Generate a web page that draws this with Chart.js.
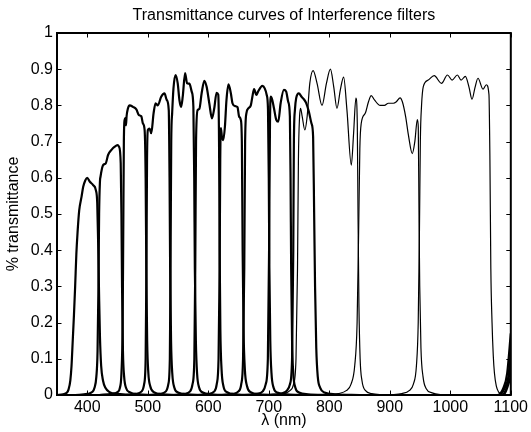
<!DOCTYPE html>
<html>
<head>
<meta charset="utf-8">
<script src="https://cdn.jsdelivr.net/npm/chart.js@4.4.1/dist/chart.umd.min.js"></script>
<style>
html,body{margin:0;padding:0;background:#fff;}
canvas{display:block;}
</style>
</head>
<body>
<canvas id="c" width="531" height="432"></canvas>
<script>
// ---- text ----
const chartTitle = 'Transmittance curves of Interference filters';
const xAxisLabel = 'λ (nm)';
const yAxisLabel = '% transmittance';

// ---- ticks ----
const xTickValues = [400, 500, 600, 700, 800, 900, 1000, 1100];
const yTickValues = [0, 0.1, 0.2, 0.3, 0.4, 0.5, 0.6, 0.7, 0.8, 0.9, 1];

// ---- filter curves: [wavelength nm, transmittance] ----
const filter400 = [[350,0],[360,0.002],[366,0.006],[369,0.015],[372,0.04],[374,0.08],[376,0.15],[378,0.22],[380,0.3],[382,0.39],[384,0.45],[386.7,0.51],[390.6,0.548],[393.3,0.575],[396.5,0.592],[399.8,0.6],[404.3,0.589],[409.7,0.58],[414.2,0.566],[416.5,0.53],[418,0.42],[419.5,0.28],[421,0.16],[423,0.08],[426,0.04],[430,0.02],[437,0.008],[450,0.003],[480,0],[1078,0],[1088,0.02],[1094,0.06],[1100,0.17]];
const filter440 = [[380,0],[400,0.003],[408,0.008],[412,0.02],[415,0.05],[417,0.12],[418.5,0.3],[419.6,0.5],[421,0.59],[421.9,0.603],[426.2,0.635],[430.6,0.64],[434.4,0.663],[440,0.677],[445.4,0.686],[449.9,0.69],[452.5,0.686],[455.3,0.64],[456.5,0.5],[457.5,0.3],[459,0.12],[461,0.05],[464,0.02],[470,0.008],[485,0.002],[520,0],[1082,0],[1090,0.02],[1096,0.05],[1100,0.12]];
const filter480 = [[420,0],[440,0.003],[450,0.008],[454,0.02],[456.5,0.06],[458.5,0.2],[459.5,0.45],[460.5,0.7],[461.8,0.76],[463,0.765],[464,0.745],[465,0.77],[467,0.79],[470.1,0.8],[475.5,0.796],[481.1,0.789],[485.4,0.773],[489.3,0.77],[492,0.75],[494.8,0.732],[496.5,0.6],[497.6,0.35],[499,0.15],[501,0.06],[504,0.025],[510,0.008],[525,0.002],[560,0],[1085,0],[1093,0.02],[1100,0.08]];
const filter520 = [[460,0],[480,0.003],[490,0.01],[494,0.03],[496.5,0.1],[497.8,0.35],[498.8,0.65],[500.2,0.732],[503,0.736],[505.8,0.723],[509.6,0.778],[512.9,0.806],[516.6,0.8],[522.2,0.824],[527.6,0.833],[531.4,0.815],[534.7,0.787],[536,0.6],[537,0.35],[538.5,0.15],[540.5,0.06],[544,0.02],[550,0.007],[565,0.002],[600,0],[1088,0],[1100,0.05]];
const filter560 = [[500,0],[520,0.003],[530,0.01],[534,0.03],[536.5,0.1],[537.8,0.4],[538.8,0.7],[540.3,0.778],[542.5,0.847],[545.8,0.884],[549.5,0.861],[552.3,0.815],[555.1,0.796],[557.8,0.824],[561.7,0.889],[565,0.861],[568.8,0.86],[572.6,0.838],[575.4,0.796],[576.8,0.6],[577.8,0.35],[579.5,0.15],[581.5,0.06],[585,0.02],[591,0.007],[605,0.002],[640,0]];
const filter600 = [[540,0],[560,0.003],[570,0.01],[574,0.03],[577,0.1],[578.5,0.35],[579.8,0.7],[582.4,0.787],[585.2,0.79],[589,0.833],[593.5,0.868],[597.2,0.852],[601.7,0.806],[606.1,0.764],[609.9,0.792],[613.7,0.835],[616.5,0.83],[617.8,0.7],[618.8,0.4],[620,0.18],[622,0.07],[625,0.025],[631,0.008],[645,0.002],[680,0]];
const filter640 = [[580,0],[600,0.003],[610,0.01],[614,0.03],[617,0.1],[618.8,0.35],[619.8,0.65],[620.9,0.737],[622.6,0.713],[624.7,0.704],[627.5,0.741],[630.1,0.815],[633.4,0.858],[637.4,0.833],[640,0.806],[644.5,0.798],[648.3,0.795],[651,0.769],[653.8,0.76],[655.5,0.7],[656.8,0.4],[658.3,0.18],[660.5,0.07],[664,0.025],[670,0.008],[685,0.002],[720,0]];
const filter680 = [[620,0],[640,0.003],[650,0.01],[654.5,0.03],[657.5,0.1],[659.5,0.35],[660.9,0.7],[663,0.778],[666.3,0.792],[670.3,0.8],[672.9,0.824],[675.7,0.845],[679.5,0.829],[682.3,0.838],[689.4,0.854],[693.3,0.847],[696.6,0.829],[698.7,0.79],[700,0.6],[701,0.35],[702.5,0.15],[704.5,0.06],[708,0.02],[714,0.007],[730,0.002],[760,0]];
const filter720 = [[660,0],[680,0.003],[690,0.01],[695,0.03],[698.5,0.1],[700.5,0.4],[702,0.75],[703.2,0.824],[705.8,0.815],[708.6,0.792],[712.4,0.76],[715.7,0.755],[719.6,0.806],[725,0.843],[728.8,0.838],[732.1,0.81],[734.9,0.769],[736,0.6],[737,0.35],[738.5,0.15],[740.5,0.06],[744,0.02],[750,0.007],[765,0.002],[800,0]];
const filter760 = [[700,0],[720,0.004],[730,0.012],[735,0.03],[738.5,0.1],[740.5,0.4],[741.5,0.7],[743.2,0.787],[745.3,0.82],[749.7,0.833],[754.2,0.824],[758,0.817],[761.7,0.807],[766.2,0.783],[770.6,0.75],[773.3,0.713],[775,0.5],[776.5,0.3],[778.5,0.13],[781,0.05],[785,0.02],[792,0.007],[810,0.002],[850,0]];
const filter800 = [[700,0],[725,0.004],[735,0.012],[741,0.03],[745,0.1],[747.5,0.35],[749,0.65],[750.9,0.769],[752.5,0.792],[755.2,0.77],[759.6,0.732],[763.4,0.769],[767.8,0.861],[773.3,0.896],[779.8,0.861],[788,0.8],[795.3,0.861],[801.9,0.9],[807.3,0.852],[812.7,0.792],[818.3,0.843],[823.7,0.878],[829.2,0.787],[836.4,0.635],[840.2,0.723],[844,0.82],[846.3,0.75],[847.5,0.5],[849,0.25],[851,0.1],[854,0.04],[860,0.012],[870,0.004],[890,0]];
const filter900 = [[790,0],[815,0.004],[828,0.012],[836,0.03],[842,0.08],[846,0.2],[848.5,0.45],[850.5,0.68],[852.8,0.75],[859.4,0.778],[864.8,0.81],[869.3,0.827],[874.7,0.815],[884.1,0.8],[891.1,0.8],[897.7,0.806],[905.9,0.806],[910.9,0.81],[917,0.821],[920.8,0.81],[926.2,0.769],[930.6,0.72],[937.2,0.667],[941.4,0.7],[945.5,0.761],[947.1,0.74],[948.3,0.5],[949.5,0.3],[951.5,0.13],[955,0.05],[960,0.018],[970,0.006],[990,0]];
const filter1000 = [[900,0],[920,0.004],[932,0.012],[939,0.03],[944,0.08],[947,0.2],[949,0.45],[950.5,0.7],[952.5,0.8],[955.4,0.852],[963.6,0.87],[973.4,0.882],[985.4,0.861],[995.3,0.884],[1003,0.87],[1011.7,0.884],[1017.8,0.87],[1024.9,0.88],[1031,0.85],[1035.9,0.817],[1040.9,0.85],[1045.8,0.875],[1054,0.845],[1059.5,0.857],[1063.9,0.83],[1065.5,0.65],[1067,0.35],[1069,0.2],[1071,0.11],[1073,0.06],[1076,0.025],[1080,0.008],[1085,0.002],[1100,0]];

const thickFilters = [filter400, filter440, filter480, filter520, filter560, filter600, filter640, filter680, filter720, filter760];
const thinFilters = [filter800, filter900, filter1000];

// ---- build datasets ----
const toPoints = arr => arr.map(p => ({x: p[0], y: p[1]}));
const datasets = [];
thinFilters.forEach(f => datasets.push({data: toPoints(f), borderColor: '#000', borderWidth: 1.2, pointRadius: 0, cubicInterpolationMode: 'monotone', fill: false}));
thickFilters.forEach(f => datasets.push({data: toPoints(f), borderColor: '#000', borderWidth: 2.2, pointRadius: 0, cubicInterpolationMode: 'monotone', fill: false}));

const FONT = 'Liberation Sans, Arial, Helvetica, sans-serif';
Chart.defaults.color = '#000';
Chart.defaults.font.family = FONT;

const boxPlugin = {
  id: 'matlabBox',
  afterDatasetsDraw(chart) {
    const {ctx, chartArea: a, scales} = chart;
    const x = scales.x, y = scales.y;
    ctx.save();
    ctx.strokeStyle = '#000';
    ctx.lineWidth = 1;
    const tl = 4.5;
    ctx.beginPath();
    xTickValues.forEach(v => {
      const px = Math.round(x.getPixelForValue(v)) + 0.5;
      ctx.moveTo(px, a.bottom); ctx.lineTo(px, a.bottom - tl);
      ctx.moveTo(px, a.top); ctx.lineTo(px, a.top + tl);
    });
    yTickValues.forEach(v => {
      const py = Math.round(y.getPixelForValue(v)) + 0.5;
      ctx.moveTo(a.left, py); ctx.lineTo(a.left + tl, py);
      ctx.moveTo(a.right, py); ctx.lineTo(a.right - tl, py);
    });
    ctx.stroke();
    ctx.lineWidth = 2;
    ctx.strokeRect(a.left, a.top, a.right - a.left, a.bottom - a.top);
    ctx.restore();
  }
};

new Chart(document.getElementById('c'), {
  type: 'scatter',
  data: {datasets},
  options: {
    responsive: false,
    animation: false,
    showLine: true,
    layout: {padding: {left: 0, right: 18, top: 0, bottom: 0}},
    plugins: {
      legend: {display: false},
      tooltip: {enabled: false},
      title: {
        display: true,
        text: chartTitle,
        fullSize: false,
        color: '#000',
        font: {family: FONT, size: 16, weight: 'normal'},
        padding: {top: 6, bottom: 7.8}
      }
    },
    scales: {
      x: {
        type: 'linear',
        min: 350, max: 1100,
        grid: {display: false, drawTicks: false},
        border: {display: false},
        afterBuildTicks: s => { s.ticks = xTickValues.map(v => ({value: v})); },
        afterFit: s => { s.height = 37; },
        ticks: {padding: 3, maxRotation: 0, autoSkip: false, color: '#000', font: {family: FONT, size: 16}, callback: v => String(v)},
        title: {display: true, text: xAxisLabel, color: '#000', font: {family: FONT, size: 16}, padding: {top: 0, bottom: 2}}
      },
      y: {
        type: 'linear',
        min: 0, max: 1,
        grid: {display: false, drawTicks: false},
        border: {display: false},
        afterBuildTicks: s => { s.ticks = yTickValues.map(v => ({value: v})); },
        afterFit: s => { s.width = 57; },
        ticks: {padding: 4, autoSkip: false, color: '#000', font: {family: FONT, size: 16}, callback: v => String(Math.round(v * 10) / 10)},
        title: {display: true, text: yAxisLabel, color: '#000', font: {family: FONT, size: 16}, padding: {top: 4, bottom: 0}}
      }
    }
  },
  plugins: [boxPlugin]
});
</script>
</body>
</html>
